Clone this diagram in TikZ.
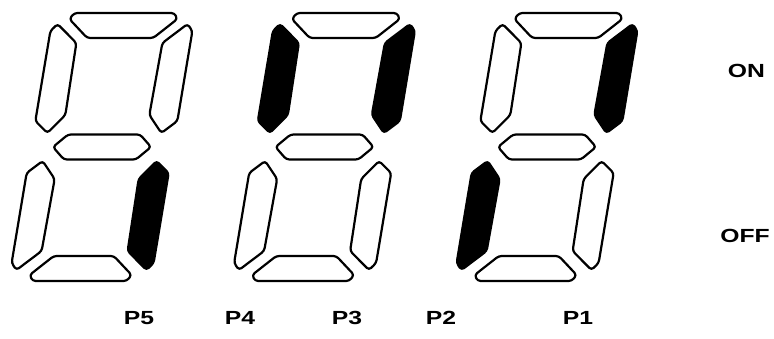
\documentclass[tikz,border=0pt]{standalone}
\usepackage{fontspec}
\setmainfont{Liberation Sans}
\newfontfamily\lblfont[FakeStretch=1.3]{Liberation Sans}

\tikzset{
  seg/.style={draw=black, line width=2.2pt, rounded corners=3pt, line join=round},
  segon/.style={seg, fill=black},
  lbl/.style={font=\lblfont\bfseries\fontsize{19}{19}\selectfont, inner sep=0pt}
}

% one digit, not slanted, centre at (0,0)
\newcommand{\sega}{(-50,134) -- (50,134) -- (54,128) -- (33,109) -- (-33,109) -- (-54,128) -- cycle}
\newcommand{\segb}{(71,116) -- (65,123) -- (43,104) -- (42,32) -- (57,14) -- (71,26) -- cycle}
\newcommand{\segc}{(71,-116) -- (65,-123) -- (43,-104) -- (42,-32) -- (57,-14) -- (71,-26) -- cycle}
\newcommand{\segd}{(-47,-134) -- (47,-134) -- (51,-128) -- (30,-109) -- (-30,-109) -- (-51,-128) -- cycle}
\newcommand{\sege}{(-71,-116) -- (-65,-123) -- (-43,-104) -- (-42,-32) -- (-57,-14) -- (-71,-26) -- cycle}
\newcommand{\segf}{(-71,116) -- (-65,123) -- (-43,104) -- (-42,32) -- (-57,14) -- (-71,26) -- cycle}
\newcommand{\segg}{(-49,0) -- (-36,12.5) -- (36,12.5) -- (49,0) -- (36,-12.5) -- (-36,-12.5) -- cycle}

\begin{document}
\begin{tikzpicture}[x=1pt, y=1pt]
\useasboundingbox (0,0) rectangle (774,338);

% left digit
\begin{scope}[shift={(102,191)}, xslant=0.167]
\draw[seg] \sega;
\draw[seg] \segb;
\draw[segon] \segc;
\draw[seg] \segd;
\draw[seg] \sege;
\draw[seg] \segf;
\draw[seg] \segg;
\end{scope}

% middle digit
\begin{scope}[shift={(324.5,191)}, xslant=0.167]
\draw[seg] \sega;
\draw[segon] \segb;
\draw[seg] \segc;
\draw[seg] \segd;
\draw[seg] \sege;
\draw[segon] \segf;
\draw[seg] \segg;
\end{scope}

% right digit
\begin{scope}[shift={(547,191)}, xslant=0.167]
\draw[seg] \sega;
\draw[segon] \segb;
\draw[seg] \segc;
\draw[seg] \segd;
\draw[segon] \sege;
\draw[seg] \segf;
\draw[seg] \segg;
\end{scope}

\node[lbl] (on) at (746.5,267) {ON};
\node[lbl] (off) at (745,102.5) {OFF};
\node[lbl] (p5) at (139,20) {P5};
\node[lbl] (p4) at (240,20) {P4};
\node[lbl] (p3) at (347,20) {P3};
\node[lbl] (p2) at (441,20) {P2};
\node[lbl] (p1) at (578,20) {P1};
\end{tikzpicture}
\end{document}
